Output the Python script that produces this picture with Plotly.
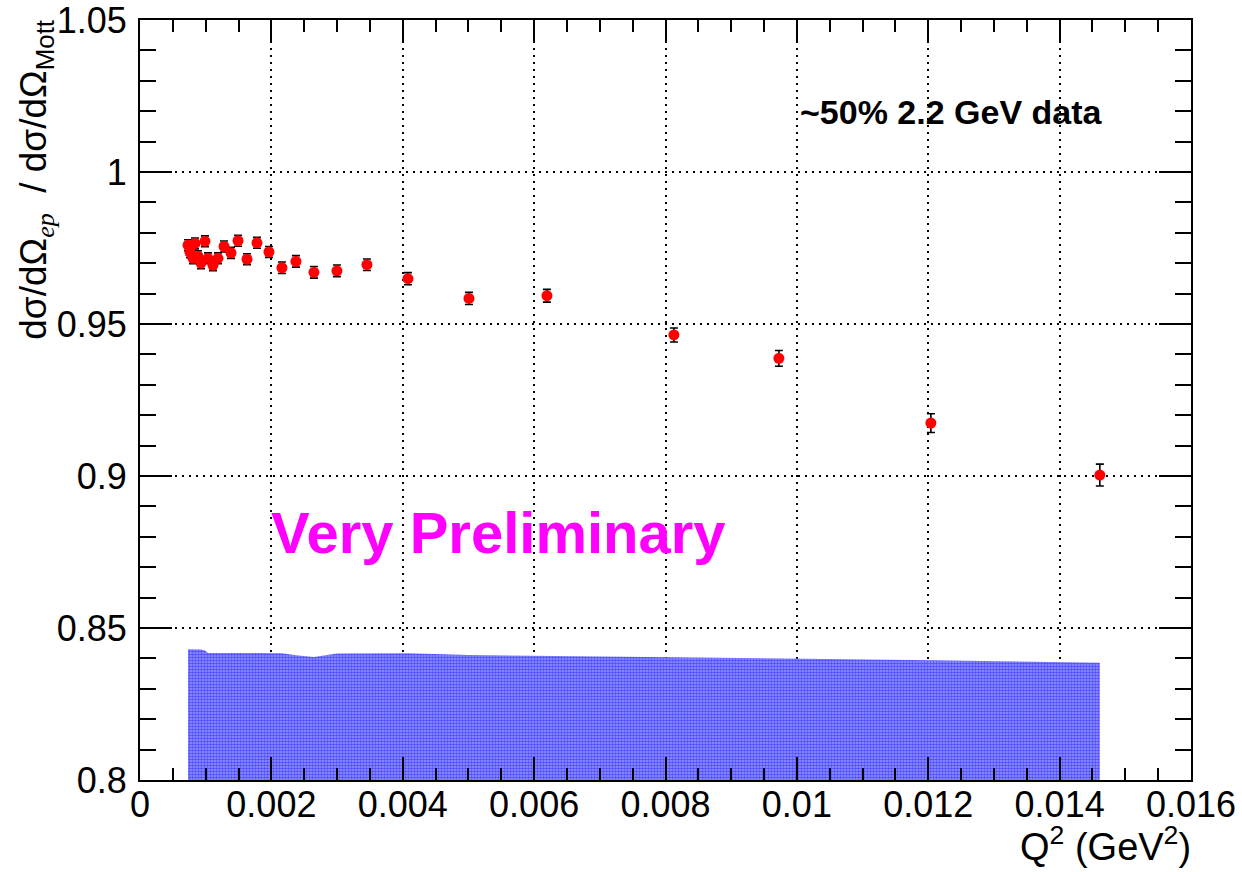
import plotly.graph_objects as go

# ---- data ----
q2 = [0.000731, 0.000761, 0.000807, 0.000837, 0.000883, 0.000928, 0.000989,
      0.001035, 0.001111, 0.001187, 0.001279, 0.001385, 0.001492, 0.001629,
      0.001781, 0.001963, 0.002161, 0.002374, 0.002648, 0.002998, 0.003455,
      0.004079, 0.005008, 0.006195, 0.008128, 0.009726, 0.012040, 0.014612]
ratio = [0.9759, 0.9736, 0.9716, 0.9765, 0.9723, 0.9700, 0.9772,
         0.9716, 0.9693, 0.9716, 0.9755, 0.9734, 0.9774, 0.9713,
         0.9767, 0.9737, 0.9685, 0.9706, 0.9670, 0.9675, 0.9695,
         0.9649, 0.9584, 0.9593, 0.9464, 0.9387, 0.9174, 0.9003]
ratio_err = [0.0018, 0.0018, 0.0018, 0.0018, 0.0018, 0.0018, 0.0018,
             0.0018, 0.0018, 0.0018, 0.0018, 0.0018, 0.0018, 0.0018,
             0.0018, 0.0018, 0.0019, 0.0019, 0.0019, 0.0019, 0.0019,
             0.0020, 0.0020, 0.0021, 0.0023, 0.0026, 0.0031, 0.0036]
band_top = [0.8430, 0.8430, 0.8430, 0.8430, 0.8430, 0.8429, 0.8426,
            0.8418, 0.8418, 0.8418, 0.8418, 0.8418, 0.8418, 0.8418,
            0.8418, 0.8418, 0.8417, 0.8410, 0.8405, 0.8416, 0.8417,
            0.8417, 0.8411, 0.8408, 0.8404, 0.8401, 0.8394, 0.8386]

x_ticks = [0, 0.002, 0.004, 0.006, 0.008, 0.01, 0.012, 0.014, 0.016]
x_tick_text = ["0", "0.002", "0.004", "0.006", "0.008", "0.01", "0.012", "0.014", "0.016"]
y_ticks = [0.8, 0.85, 0.9, 0.95, 1.0, 1.05]
y_tick_text = ["0.8", "0.85", "0.9", "0.95", "1", "1.05"]

FONT = "Liberation Sans, Arial, Helvetica, sans-serif"

fig = go.Figure()

# systematic band (hatched blue)
fig.add_trace(go.Scatter(
    x=q2, y=[0.8] * len(q2), mode="lines", line=dict(width=0, color="blue"),
    showlegend=False, hoverinfo="skip"))
fig.add_trace(go.Scatter(
    x=q2, y=band_top, mode="lines", line=dict(width=0, color="blue"),
    fill="tonexty", fillcolor="rgba(0,0,255,0)",
    fillpattern=dict(shape=".", fgcolor="#0000ff", bgcolor="#9a9aff",
                     size=3, solidity=0.6),
    showlegend=False, hoverinfo="skip"))

# data points
fig.add_trace(go.Scatter(
    x=q2, y=ratio, mode="markers",
    marker=dict(color="#ff0000", size=11, line=dict(width=0)),
    error_y=dict(type="data", array=ratio_err, color="black", thickness=1.6, width=4),
    showlegend=False))

axis_common = dict(
    showline=True, linecolor="black", linewidth=2, mirror="ticks",
    ticks="inside", tickcolor="black", tickwidth=1.5,
    showgrid=True, gridcolor="black", gridwidth=1.8, griddash="2px,5px",
    zeroline=False, ticklabeloverflow="allow", automargin=False,
    tickfont=dict(family=FONT, size=36, color="black"),
)

fig.update_xaxes(
    **axis_common, range=[0, 0.016], tickvals=x_ticks, ticktext=x_tick_text,
    ticklen=23, ticklabelstandoff=-8,
    minor=dict(ticks="inside", ticklen=12, dtick=0.0005, tickcolor="black",
               tickwidth=1.5, showgrid=False),
)
fig.update_yaxes(
    **axis_common, range=[0.8, 1.0500001], tickvals=y_ticks, ticktext=y_tick_text,
    ticklen=32, ticklabelstandoff=4,
    minor=dict(ticks="inside", ticklen=16, dtick=0.01, tickcolor="black",
               tickwidth=1.5, showgrid=False),
)

annotations = [
    dict(text="~50% 2.2 GeV data", x=0.01235, y=1.0198, xref="x", yref="y",
         xanchor="center", yanchor="middle", showarrow=False,
         font=dict(family=FONT, size=34, color="black", weight="bold")),
    dict(text="Very Preliminary", x=0.005464, y=0.8815, xref="x", yref="y",
         xanchor="center", yanchor="middle", showarrow=False,
         font=dict(family=FONT, size=58, color="#ff00ff", weight="bold")),
    dict(text="Q<sup>2</sup> (GeV<sup>2</sup>)", x=1.002, y=-0.118, xref="paper", yref="paper",
         xanchor="right", yanchor="bottom", showarrow=False,
         font=dict(family=FONT, size=38, color="black")),
    dict(text=("dσ/dΩ<sub><i><span style='font-family:Liberation Serif'>ep</span></i></sub>"
               "  / dσ/dΩ<sub>Mott</sub>"),
         x=-0.098, y=1.003, xref="paper", yref="paper", textangle=-90,
         xanchor="center", yanchor="top", showarrow=False,
         font=dict(family=FONT, size=37, color="black")),
]

fig.update_layout(
    width=1242, height=872,
    margin=dict(l=140, r=51, t=20, b=92),
    paper_bgcolor="white", plot_bgcolor="white",
    annotations=annotations,
    showlegend=False,
)

fig.write_html("out.html")
